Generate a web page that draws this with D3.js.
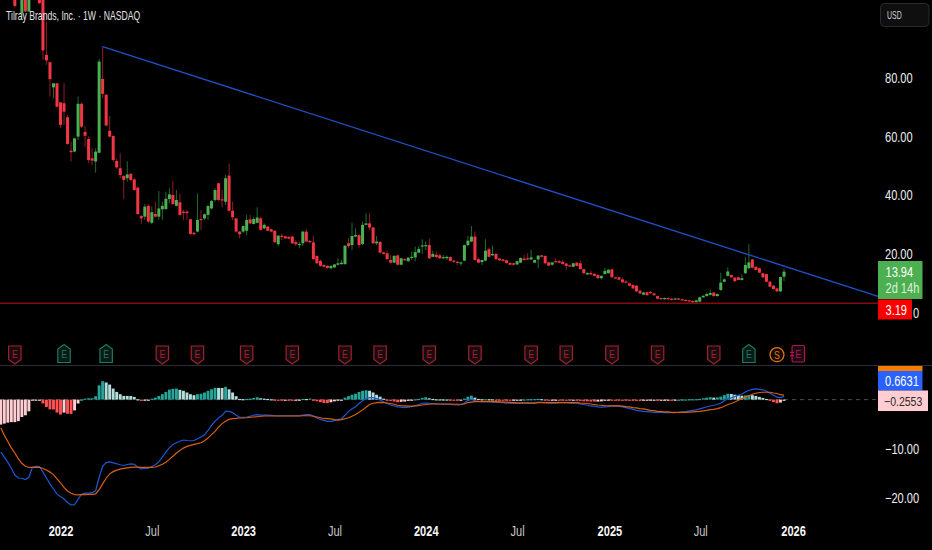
<!DOCTYPE html>
<html>
<head>
<meta charset="utf-8">
<script src="https://cdn.jsdelivr.net/npm/d3@7"></script>
<style>
  html, body { margin: 0; padding: 0; background: #000; }
  svg { display: block; }
  text { font-family: "Liberation Sans", sans-serif; }
</style>
</head>
<body>
<svg class="chart"></svg>
<script>
let width = 932
let height = 550

// weekly bars, first one is the week of 2021-09-06, last 2025-12-15
let opens = [
  118,115,118,124,121,115,102.1,118,102.7,115,
  120,122,112,87.9,85.4,76.8,78.2,71.7,71.4,66.6,
  55.2,54.9,60,71.2,61.6,59.2,52.6,51.5,54.5,79.7,
  74.3,62,60.2,51.7,49.2,46.6,45.8,47.3,45.4,42.6,
  32.9,32.7,36.4,30.6,33.6,32.7,35.2,35.3,38.7,40.1,
  36.4,37.6,34.4,34.4,31.8,27.2,27.6,31.9,32.1,33.3,
  35.5,38.4,44.1,38.6,37.8,46.7,34.7,32.1,27.6,27.6,
  27.9,31.8,30.2,30.6,32.1,28.7,29.3,28.4,27.9,23.3,
  26.2,26,25.8,25.9,24,23,23.6,27.6,24.4,23.9,
  19.3,17.6,16.2,15.9,15.1,15.4,16.3,16.5,16.5,23.6,
  23,25.9,26.4,23.4,29.9,30.4,29,23.6,24.1,20.5,
  20.2,17.9,17,19.5,16.3,18.2,17.5,18.8,18.8,20.4,
  22.5,22.7,23,19,19.7,19.5,18.6,18.5,18.9,17.7,
  17.3,16.8,17.7,23,24.2,25.9,18.2,17.2,17.7,21.6,
  19.5,20,18.4,18.1,17.8,16.9,16.8,16.4,17,18.4,
  18.5,18.1,17,18.1,19.5,19.3,17.1,16.3,17.5,17.5,
  17.3,16.7,16.1,15.6,17,16.8,14.8,13,13.5,13.2,
  12.8,11.7,13.1,13.4,14.7,12,12,11.3,10.6,9.95,
  9.4,9.15,7.45,6.1,6.9,7,6.5,5.6,4.95,4.6,
  4.95,4.7,4.5,4.8,4.5,4.3,4.15,3.9,3.6,3.7,
  5.2,5.6,6,6.8,5.6,7.7,10.5,12.5,12.8,11.9,
  12,11.1,13.4,15.1,18.1,15.6,15.1,13.4,13.1,10.5,
  9.15,8.2,7.2,12.2
]
let closes = [
  115,118,124,121,104.6,118,118,102.7,115,120,
  122,105.5,89.4,86,79.6,78.2,70.2,64,68.5,57.5,
  54.7,59.4,71.2,63.4,60.3,52,51.8,54.9,85.6,74.6,
  63.8,60,52,49.5,46.9,45.2,47.1,45.2,41.8,33.6,
  32.1,36.1,31,34.2,32.7,35.5,36.4,38.8,40.3,37,
  38.4,33.3,34.2,33.9,26.8,26.7,31.6,31.6,33.5,36.3,
  38,41.8,38.4,38.2,45.8,34.7,32.5,27.6,26.7,29.5,
  31.6,30.4,31.9,32.4,28.2,29.9,27.9,27.6,24,26.2,
  25.9,25.3,25.2,23.6,23.3,23.4,27.6,24.2,24.1,18.2,
  16.8,15.9,15.6,15.2,15.9,16.4,16.8,17,22.8,22.7,
  26.1,26.4,23,29.9,30.4,29,23.6,24.2,20.4,20,
  18.2,17,19.3,16.3,18.5,17.8,18.7,19,20.6,21.7,
  22.9,23,18.5,20,18.9,18.5,18.9,19,17.6,17.3,
  17,17.1,23,24.5,25.9,17.9,17,17.9,21.1,19,
  20,18.2,17.8,17.6,16.9,16.3,16.3,17.5,18.6,17.9,
  18.1,18.8,17.9,19.4,19,16.8,16,17.1,17.2,17,
  16.5,15.9,15.8,16.8,15.9,14.8,13.4,13.5,13,12.5,
  11.7,12.5,14.2,14.6,12,11.7,11.2,10.3,10.4,9.15,
  8.2,7.2,6.5,6.8,5.9,6.65,5.9,4.7,4.6,4.95,
  4.5,4.3,4.8,4.5,4.15,3.9,3.8,3.6,4.15,5.2,
  5.7,6.3,6.65,5.6,6.3,10.2,11.3,14,12,10.7,
  11.1,11.7,16.2,17.1,15.3,14.5,13.6,12,10.5,8.8,
  8,7.2,12.1,13.94
]
let highs = [
  125,122,128,130,125,122,122,120,118,124,
  128,124,118,99.3,85.4,78.2,78.2,71.7,78.2,67.4,
  58.3,59.6,73.7,71.6,63.6,60,56,56,86.4,90.7,
  74.5,67,60.5,52.5,54.3,46.8,51.6,47.5,46,43,
  33.3,37,37,36.1,37.8,41.5,37.8,41.2,42.4,44.9,
  41.8,40.6,35,35,32,27.5,40.6,35,33.8,36.7,
  38.4,42.4,44.3,41.8,46.9,50.9,37.8,32.3,27.8,29.7,
  33.3,33.3,32.7,35.9,32.7,30.4,29.5,28.6,28.1,26.4,
  27,26.2,26,26.1,24.7,24.2,27.9,28.4,24.7,26.1,
  19.5,18.1,16.5,16.1,16.1,16.6,18.5,17.9,23,25.3,
  30.7,28.7,26.6,31,33.9,33.9,29.2,26.1,24.3,20.8,
  21.1,19.6,19.6,19.7,18.7,18.4,18.9,20.8,22.5,22.7,
  25,24.2,25.3,21.1,20.8,20,19.6,19.5,19.1,17.9,
  17.5,17.3,23.2,26.1,29.5,27.6,18.8,18.1,25,22.1,
  22.8,20.2,18.6,18.3,18,17.1,17,17.7,18.8,19.6,
  20.2,21.4,18.1,19.6,19.7,19.5,17.3,17.3,18.5,17.9,
  17.9,16.9,16.3,17,17.2,17.9,15,13.7,14.3,13.4,
  13,12.7,15.2,14.8,14.9,12.2,12.2,12,11,10.2,
  9.6,9.4,7.6,7,7.1,7.3,6.7,5.8,5.1,5.1,
  5.1,4.9,5,5,4.7,4.5,4.3,4.1,4.3,5.4,
  5.9,6.8,7.9,7,6.5,13.6,11.7,15.4,13,12.1,
  12.2,13.1,18.8,23.3,18.3,15.8,15.3,13.6,13.3,10.7,
  9.4,8.4,12.3,15
]
let lows = [
  112,110,114,118,104,110,99.8,102.5,102.5,110,
  116,105.3,86.2,84.5,73.7,73.1,70,62.9,64,57.2,
  51.5,54.7,58.9,63,56.6,51,50.3,47.7,54.3,73.1,
  63.5,59.8,51.5,49,45.8,38.7,44.6,44.9,41.5,33.3,
  30.2,31.6,30.5,30.2,32.4,31.6,31.6,35,37.3,36.7,
  36.1,33,31.6,31.6,26.5,26.3,27.3,28.2,31.6,31.6,
  35.2,37.8,38,35.9,36.7,34.5,31.6,27.3,25.3,27,
  26.4,30.2,30,30.4,27.9,28.4,27.7,27.4,23.8,22.7,
  24.7,25.1,25,23.4,22.7,21.9,22.7,24,23.6,18,
  16.6,15.6,15.4,15,14.7,15.2,16.1,16.3,16.3,21.9,
  21.3,25.7,22.1,23,29.7,28.2,23.4,23,20.2,19.8,
  18,16.8,16.8,16,16.1,17.6,17.3,17.9,17.5,20.2,
  20,21.3,18.3,18.8,18.7,18.2,18.1,17.9,17.4,16.8,
  16.2,15.9,17.5,22.5,24,17.7,16.8,16.2,17.5,18.8,
  19.3,18,17.6,17.4,16.7,16.1,16.1,16.2,16.8,17.7,
  17.9,18,16.8,15.1,18.8,16.6,15.8,16,17,16.8,
  16.3,14.5,15.6,15.4,15.7,14.6,13.2,12.7,12.8,12.3,
  11.5,11.3,13,13.2,11.8,11.5,11,10,10.1,8.9,
  8,7,6.3,5.9,5.7,6.4,5.7,4.5,4.4,4.4,
  4.3,4.1,4.3,4.3,4,3.8,3.6,3.4,3.19,3.5,
  5,5.4,5.8,5.4,5.4,7.3,10.3,12.2,11.8,10.2,
  10.9,10.9,13.1,14.7,15,14.3,13.4,11.8,10.3,8.6,
  7.8,7,7,10.7
]

let histValues = [
  -5.1,-4.9,-4.7,-4.6,-4.6,-4.4,-3.55,-3.2,-2.4,-0.07,
  -0.05,-0.05,-0.8,-1.5,-2,-2.02,-2.65,-3.05,-2.65,-2.9,
  -2.92,-2.2,-0.8,0,0.2,0.27,0.28,0.68,2.9,3.75,
  3.5,3.07,2.25,1.57,1.1,0.75,0.74,0.73,0.55,0.07,
  -0.27,-0.14,-0.02,0.2,0.4,0.75,1.1,1.57,2.05,2.2,
  2.25,2,1.8,1.45,1.1,0.9,1.1,1.2,1.45,1.8,
  2.1,2.4,2.39,2.38,2.6,2.1,1.45,0.7,0.14,0.1,
  0.14,0.2,0.34,0.48,0.27,0.2,0.14,0.07,-0.07,-0.08,
  -0.09,-0.02,-0.14,-0.15,-0.07,-0.06,0.14,0.13,0.2,-0.1,
  -0.35,-0.5,-0.7,-0.72,-0.55,-0.35,-0.2,-0.07,0.4,0.7,
  1,1.2,1.55,1.8,1.9,1.8,1.45,1,0.6,0.2,
  -0.14,-0.27,-0.4,-0.55,-0.45,-0.4,-0.27,-0.07,0.07,0.14,
  0.34,0.48,0.27,0.14,0.07,0.05,0.04,0.03,-0.14,-0.15,
  -0.2,-0.14,0.2,0.6,0.8,0.4,0.14,0.07,0.08,0.07,
  0.06,-0.1,-0.14,-0.15,-0.16,-0.17,-0.14,-0.07,-0.06,0.03,
  0.07,0.08,0.1,0.14,0.1,-0.07,-0.08,-0.07,-0.06,-0.14,
  -0.15,-0.2,-0.21,-0.19,-0.2,-0.27,-0.35,-0.36,-0.4,-0.41,
  -0.4,-0.35,-0.2,-0.14,-0.15,-0.2,-0.21,-0.22,-0.23,-0.24,
  -0.25,-0.26,-0.27,-0.24,-0.2,-0.19,-0.18,-0.2,-0.17,-0.14,
  -0.13,-0.14,-0.07,0,0.01,0.03,0.07,0.08,0.09,0.14,
  0.27,0.4,0.48,0.4,0.45,0.6,0.9,1.2,1.15,1,
  0.9,0.8,0.85,0.95,0.9,0.75,0.55,0.34,0.14,-0.14,
  -0.5,-0.75,-0.6,-0.2553
]
let macdValues = [
  -10.7,-11.75,-12.8,-14,-15.4,-16,-16.05,-16.3,-15.85,-13.8,
  -13.6,-13.65,-14.8,-16,-17.2,-18.2,-19.3,-19.75,-20.3,-21,
  -21.5,-21.45,-20.3,-19.3,-19.1,-19.1,-19,-18.6,-15.85,-13.6,
  -12.85,-12.7,-12.9,-13.1,-13.3,-13.45,-13.25,-13.1,-13.2,-13.8,
  -14.15,-14.05,-14,-13.65,-13.3,-12.65,-11.75,-10.7,-9.85,-9.15,
  -8.8,-8.5,-8.25,-8.35,-8.4,-8.35,-8,-7.65,-7.2,-6.3,
  -5.25,-4.4,-3.75,-3.2,-2.4,-2.4,-2.65,-3.2,-3.6,-3.6,
  -3.55,-3.4,-3.2,-3.05,-3.15,-3.15,-3.15,-3.2,-3.3,-3.3,
  -3.3,-3.3,-3.3,-3.3,-3.3,-3.3,-3.15,-3.05,-3.05,-3.35,
  -3.75,-4.05,-4.25,-4.45,-4.45,-4.3,-4.1,-3.9,-3.2,-2.4,
  -1.85,-1.45,-0.8,-0.25,0.2,0.4,0.4,0.2,-0.05,-0.5,
  -0.8,-1.1,-1.3,-1.5,-1.55,-1.65,-1.55,-1.45,-1.25,-1,
  -0.75,-0.7,-0.75,-0.8,-0.9,-0.9,-0.95,-0.95,-1,-1.05,
  -1.1,-1.05,-0.7,-0.15,0.05,-0.2,-0.35,-0.4,-0.4,-0.4,
  -0.5,-0.5,-0.55,-0.6,-0.7,-0.75,-0.8,-0.8,-0.8,-0.75,
  -0.7,-0.7,-0.6,-0.55,-0.55,-0.6,-0.7,-0.7,-0.7,-0.6,
  -0.6,-0.6,-0.7,-0.7,-0.75,-0.9,-1,-1.15,-1.3,-1.35,
  -1.5,-1.55,-1.5,-1.45,-1.35,-1.35,-1.35,-1.5,-1.65,-1.8,
  -2,-2.2,-2.3,-2.4,-2.45,-2.5,-2.6,-2.6,-2.62,-2.65,
  -2.65,-2.65,-2.65,-2.6,-2.5,-2.45,-2.3,-2.2,-2.1,-1.9,
  -1.7,-1.45,-1.3,-1.15,-1,-0.7,-0.25,0.2,0.35,0.6,
  0.9,1.15,1.55,1.9,2.1,2.2,2.1,2,1.7,1.3,
  0.9,0.5,0.4,0.6631
]
let signalValues = [
  -5.75,-7.3,-8.55,-9.85,-10.9,-12.1,-13,-13.6,-13.85,-13.85,
  -13.85,-13.85,-14.05,-14.35,-14.8,-15.3,-16.2,-17,-17.9,-18.65,
  -19.1,-19.4,-19.45,-19.4,-19.4,-19.35,-19.35,-19.25,-18.4,-17.2,
  -16.05,-15.15,-14.7,-14.4,-14.2,-14.05,-13.95,-13.85,-13.8,-13.8,
  -13.85,-13.85,-13.85,-13.85,-13.75,-13.5,-13.2,-12.8,-12.2,-11.55,
  -10.9,-10.4,-9.9,-9.55,-9.35,-9.15,-9,-8.8,-8.4,-7.85,
  -7.15,-6.5,-5.6,-4.9,-4.4,-4.05,-3.9,-3.85,-3.75,-3.75,
  -3.7,-3.6,-3.55,-3.5,-3.4,-3.35,-3.35,-3.35,-3.35,-3.35,
  -3.35,-3.35,-3.35,-3.35,-3.35,-3.35,-3.3,-3.3,-3.3,-3.4,
  -3.55,-3.7,-3.85,-3.9,-3.95,-4.1,-4.2,-4.1,-3.9,-3.7,
  -3.4,-3.05,-2.6,-2.1,-1.55,-1,-0.75,-0.6,-0.55,-0.6,
  -0.7,-0.8,-0.95,-1.15,-1.25,-1.3,-1.35,-1.35,-1.3,-1.25,
  -1.1,-1,-0.95,-0.9,-0.9,-0.9,-0.9,-0.9,-0.9,-0.95,
  -0.95,-0.95,-0.9,-0.6,-0.5,-0.4,-0.4,-0.4,-0.4,-0.4,
  -0.4,-0.4,-0.45,-0.5,-0.5,-0.55,-0.6,-0.65,-0.65,-0.65,
  -0.65,-0.7,-0.7,-0.6,-0.6,-0.6,-0.6,-0.6,-0.6,-0.6,
  -0.6,-0.6,-0.6,-0.6,-0.6,-0.7,-0.75,-0.8,-0.9,-1,
  -1.1,-1.15,-1.25,-1.25,-1.3,-1.3,-1.3,-1.35,-1.45,-1.5,
  -1.65,-1.7,-1.85,-1.9,-2.05,-2.2,-2.25,-2.4,-2.45,-2.5,
  -2.5,-2.6,-2.6,-2.6,-2.6,-2.6,-2.55,-2.5,-2.45,-2.4,
  -2.3,-2.2,-2.05,-2,-1.85,-1.65,-1.35,-1,-0.8,-0.5,
  -0.15,0.2,0.5,0.8,1.1,1.3,1.45,1.5,1.5,1.5,
  1.35,1.25,1,0.918
]

let priceTicks = [20, 40, 60, 80]
let macdTicks = [-10, -20]
let timeTicks = ['2022-01-03', '2022-07-04', '2023-01-02', '2023-07-03', '2024-01-01', '2024-07-01', '2025-01-01', '2025-07-01', '2026-01-02']
let timeLabels = ['2022', 'Jul', '2023', 'Jul', '2024', 'Jul', '2025', 'Jul', '2026']

// bar numbers counted from the first week
let earningsDown = [4, 46, 56, 70, 83, 98, 108, 122, 135, 151, 161, 174, 187, 203]
let earningsUp = [18, 30, 213]
let dividendBar = 221
let nextEarningsBar = 227
let trendBars = [29, 250]
let trendPrices = [90.7, 5.4]
let lastLow = 3.19
let lastClose = 13.94

let svg = d3.select('.chart')
  .attr('width', width)
  .attr('height', height)

let weeks = d3.timeMonday.range(new Date(2021, 8, 6), new Date(2025, 11, 16))

let x = d3.scaleTime()
  .domain([weeks[0], weeks[weeks.length - 1]])
  .range([0.8, 784])

let xBar = (i) => x(d3.timeMonday.offset(weeks[0], i))

let y = d3.scaleLinear()
  .domain([0, 80])
  .range([312.5, 78])

let yMacd = d3.scaleLinear()
  .domain([-20, 0])
  .range([497.6, 399.6])

let axisFont = 14
let textColor = '#ededed'

// price pane
let candles = svg.append('g')
  .selectAll('g')
  .data(weeks)
  .enter()
  .append('g')

let isUp = (i) => closes[i] >= opens[i]

candles.append('line')
  .attr('x1', (d) => x(d))
  .attr('x2', (d) => x(d))
  .attr('y1', (d, i) => y(highs[i]))
  .attr('y2', (d, i) => y(lows[i]))
  .attr('stroke', (d, i) => isUp(i) ? '#1f6b2e' : '#8f1c27')
  .attr('stroke-width', 1)

candles.append('rect')
  .attr('x', (d) => x(d) - 1.5)
  .attr('width', 3)
  .attr('y', (d, i) => y(Math.max(opens[i], closes[i])))
  .attr('height', (d, i) => Math.max(1.2, Math.abs(y(opens[i]) - y(closes[i]))))
  .attr('fill', (d, i) => isUp(i) ? '#4caf50' : '#f23645')

svg.append('line')
  .attr('x1', 0)
  .attr('x2', 878)
  .attr('y1', y(lastLow))
  .attr('y2', y(lastLow))
  .attr('stroke', '#c8141e')
  .attr('stroke-width', 1)

svg.append('line')
  .attr('x1', xBar(trendBars[0]))
  .attr('x2', xBar(trendBars[1]))
  .attr('y1', y(trendPrices[0]))
  .attr('y2', y(trendPrices[1]))
  .attr('stroke', '#2050c8')
  .attr('stroke-width', 1.3)

svg.append('text')
  .attr('class', 'title')
  .attr('x', 6)
  .attr('y', 19.5)
  .attr('fill', '#e4e4e4')
  .attr('font-size', 13)
  .text('Tilray Brands, Inc. · 1W · NASDAQ')

// earnings markers
let shieldDown = 'M-6.2,-9 L6.2,-9 L6.2,4.5 L0,9 L-6.2,4.5 Z'
let shieldUp = 'M-6.2,9 L6.2,9 L6.2,-4.5 L0,-9 L-6.2,-4.5 Z'

let downMarks = svg.append('g')
  .selectAll('g')
  .data(earningsDown)
  .enter()
  .append('g')
  .attr('transform', (d) => `translate(${xBar(d)}, 355)`)

downMarks.append('path')
  .attr('d', shieldDown)
  .attr('fill', '#190c0f')
  .attr('stroke', '#a3202e')
  .attr('stroke-width', 1.2)

downMarks.append('text')
  .attr('text-anchor', 'middle')
  .attr('y', 3)
  .attr('font-size', 11)
  .attr('fill', '#a3202e')
  .text('E')

let upMarks = svg.append('g')
  .selectAll('g')
  .data(earningsUp)
  .enter()
  .append('g')
  .attr('transform', (d) => `translate(${xBar(d)}, 353.5)`)

upMarks.append('path')
  .attr('d', shieldUp)
  .attr('fill', '#0b1a16')
  .attr('stroke', '#1b7a5e')
  .attr('stroke-width', 1.2)

upMarks.append('text')
  .attr('text-anchor', 'middle')
  .attr('y', 4.5)
  .attr('font-size', 11)
  .attr('fill', '#1b7a5e')
  .text('E')

svg.append('circle')
  .attr('cx', xBar(dividendBar))
  .attr('cy', 354.7)
  .attr('r', 7)
  .attr('fill', '#140c04')
  .attr('stroke', '#e5750f')
  .attr('stroke-width', 1.2)

svg.append('text')
  .attr('x', xBar(dividendBar))
  .attr('y', 358.6)
  .attr('text-anchor', 'middle')
  .attr('font-size', 11)
  .attr('fill', '#e5750f')
  .text('S')

svg.append('rect')
  .attr('x', xBar(nextEarningsBar) - 6)
  .attr('y', 345.5)
  .attr('width', 12.5)
  .attr('height', 16.5)
  .attr('rx', 1.5)
  .attr('fill', '#1a0c12')
  .attr('stroke', '#b5134d')
  .attr('stroke-width', 1.2)

svg.append('text')
  .attr('x', xBar(nextEarningsBar) + 0.2)
  .attr('y', 357.7)
  .attr('text-anchor', 'middle')
  .attr('font-size', 11)
  .attr('fill', '#b5134d')
  .text('E')

svg.append('path')
  .attr('d', `M${xBar(nextEarningsBar) - 4},352.4 h-4 M${xBar(nextEarningsBar) - 4},355.6 h-4`)
  .attr('stroke', '#b5134d')
  .attr('stroke-width', 1.2)

// pane separator
svg.append('line')
  .attr('x1', 0)
  .attr('x2', width)
  .attr('y1', 365.5)
  .attr('y2', 365.5)
  .attr('stroke', '#2a2e39')

// macd pane
svg.append('line')
  .attr('x1', 0)
  .attr('x2', 878)
  .attr('y1', yMacd(0))
  .attr('y2', yMacd(0))
  .attr('stroke', '#4a4a4a')
  .attr('stroke-dasharray', '4 4')

let histColor = (d, i) => {
  let prev = i > 0 ? histValues[i - 1] : d - 1
  if (d >= 0) {
    return d >= prev ? '#26a69a' : '#b2dfdb'
  }
  return d < prev ? '#ff5252' : '#ffcdd2'
}

svg.append('g')
  .selectAll('rect')
  .data(histValues)
  .enter()
  .append('rect')
  .attr('x', (d, i) => xBar(i) - 1.45)
  .attr('width', 2.9)
  .attr('y', (d) => Math.min(yMacd(d), yMacd(0)))
  .attr('height', (d) => Math.max(1.2, Math.abs(yMacd(d) - yMacd(0))))
  .attr('fill', histColor)

let macdLine = d3.line()
  .x((d, i) => xBar(i))
  .y((d) => yMacd(d))

svg.append('path')
  .attr('d', macdLine(macdValues))
  .attr('fill', 'none')
  .attr('stroke', '#1f57d6')
  .attr('stroke-width', 1.2)

svg.append('path')
  .attr('d', macdLine(signalValues))
  .attr('fill', 'none')
  .attr('stroke', '#dc5f10')
  .attr('stroke-width', 1.2)

// axes
let priceAxis = d3.axisRight(y)
  .tickValues(priceTicks)
  .tickSize(0)
  .tickPadding(0)
  .tickFormat(d3.format('.2f'))

let macdAxis = d3.axisRight(yMacd)
  .tickValues(macdTicks)
  .tickSize(0)
  .tickPadding(0)
  .tickFormat((d) => `−${d3.format('.2f')(-d)}`)

let timeDates = timeTicks.map((d) => d3.timeParse('%Y-%m-%d')(d))

let timeAxis = d3.axisBottom(x)
  .tickValues(timeDates)
  .tickSize(0)
  .tickPadding(0)
  .tickFormat((d, i) => timeLabels[i])

let gPrice = svg.append('g')
  .attr('transform', 'translate(885, 0)')
  .call(priceAxis)

let gMacd = svg.append('g')
  .attr('transform', 'translate(885, 0)')
  .call(macdAxis)

let gTime = svg.append('g')
  .attr('transform', 'translate(0, 526)')
  .call(timeAxis)

for (let g of [gPrice, gMacd, gTime]) {
  g.select('.domain').remove()
  g.selectAll('text')
    .attr('fill', textColor)
    .attr('font-size', axisFont)
    .style('font-family', '"Liberation Sans", sans-serif')
}

gTime.selectAll('text')
  .attr('font-weight', (d, i) => timeLabels[i] === 'Jul' ? 'normal' : 'bold')
  .attr('fill', (d, i) => timeLabels[i] === 'Jul' ? '#c8c8c8' : '#f5f5f5')

// tail of the zero price label, the rest sits under the red tag
svg.append('text')
  .attr('x', 913)
  .attr('y', y(0) + 5)
  .attr('fill', textColor)
  .attr('font-size', axisFont)
  .text('0')

// price tags
let tag = (xPos, yPos, w, h, fill) => {
  svg.append('rect')
    .attr('x', xPos)
    .attr('y', yPos)
    .attr('width', w)
    .attr('height', h)
    .attr('fill', fill)
}

let tagText = (xPos, yPos, label, fill) => {
  return svg.append('text')
    .attr('x', xPos)
    .attr('y', yPos)
    .attr('fill', fill)
    .attr('font-size', axisFont)
    .text(label)
}

tag(878, 261, 44.5, 38, '#4caf50')
tagText(885.5, y(lastClose) + 5, d3.format('.2f')(lastClose), '#ffffff')
tagText(885.5, 293, '2d 14h', '#dff0df')

tag(878, 299.5, 34, 20, '#f90000')
tagText(885.5, 314.8, d3.format('.2f')(lastLow), '#ffffff')

tag(878, 366, 44.5, 5, '#f57c00')
tag(878, 371, 44.5, 19.5, '#2962ff')
tagText(885, 385.8, d3.format('.4f')(macdValues[macdValues.length - 1]), '#ffffff')

tag(878, 390.5, 50, 20.5, '#ffcdd2')
tagText(884, 405.5, `−${d3.format('.4f')(-histValues[histValues.length - 1])}`, '#2a2a2a')
  .attr('class', 'hist-tag')
  .attr('font-size', 12.5)

// currency box
svg.append('rect')
  .attr('x', 880.5)
  .attr('y', 3.5)
  .attr('width', 48.5)
  .attr('height', 23)
  .attr('rx', 4)
  .attr('fill', '#0f0f0f')
  .attr('stroke', '#2a2a2a')

svg.append('text')
  .attr('class', 'usd')
  .attr('x', 887)
  .attr('y', 19)
  .attr('fill', '#d8d8d8')
  .attr('font-size', 10.5)
  .text('USD')

// the reference text is narrower than any installed font, squeeze it
svg.selectAll('text').each(function () {
  let t = d3.select(this)
  let ratio = 0.79
  if (t.classed('title')) ratio = 0.665
  if (t.classed('usd')) ratio = 0.66
  if (t.classed('hist-tag')) ratio = 0.84
  t.attr('textLength', this.getComputedTextLength() * ratio)
    .attr('lengthAdjust', 'spacingAndGlyphs')
})
</script>
</body>
</html>
